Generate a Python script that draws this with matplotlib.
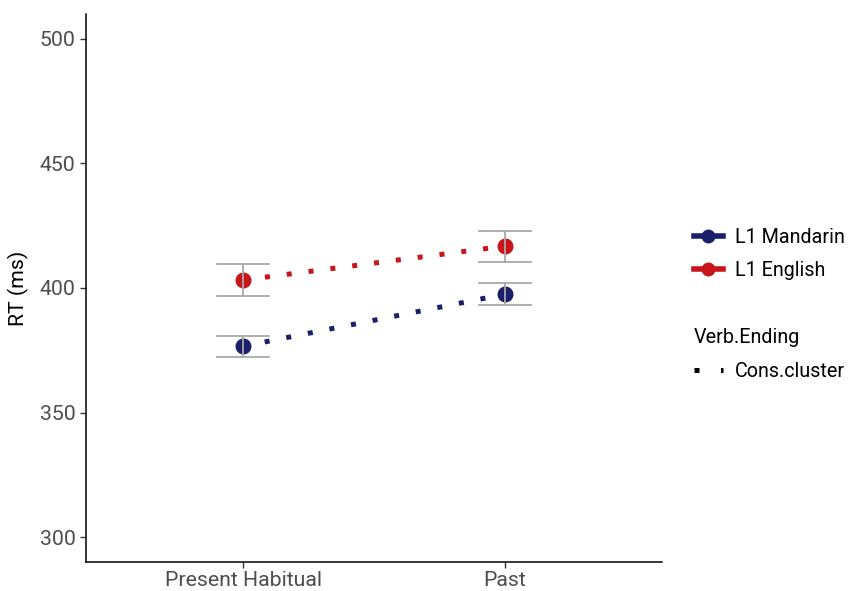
import matplotlib.pyplot as plt
from matplotlib.lines import Line2D

plt.rcParams['font.family'] = ['Roboto', 'DejaVu Sans']

# data
conditions = ["Present Habitual", "Past"]
groups = ["L1 Mandarin", "L1 English"]
mandarin_rt = [376.6, 397.5]
mandarin_lo = [372.3, 393.2]
mandarin_hi = [380.7, 402.0]
english_rt = [403.2, 416.8]
english_lo = [396.8, 410.4]
english_hi = [409.6, 422.9]
yticks = [300, 350, 400, 450, 500]

colors = ['#1b1f6b', '#c8141b']
grey = '#a9a9a9'
fs = 15.3
lfs = 14.2

fig = plt.figure(figsize=(8.5, 5.91), dpi=100)
ax = fig.add_axes([0.1012, 0.0491, 0.6776, 0.9272])

x = [1, 2]
series = [(mandarin_rt, mandarin_lo, mandarin_hi), (english_rt, english_lo, english_hi)]
for (rt, lo, hi), col in zip(series, colors):
    ax.plot(x, rt, color=col, lw=3.6, dashes=(1, 3.4), dash_capstyle='butt', zorder=2)
    ax.plot(x, rt, 'o', color=col, markersize=10.5, zorder=3)
    for xi, l, h in zip(x, lo, hi):
        ax.plot([xi, xi], [l, h], color=grey, lw=1.3, zorder=4)
        ax.plot([xi - 0.1, xi + 0.1], [l, l], color=grey, lw=1.3, zorder=4)
        ax.plot([xi - 0.1, xi + 0.1], [h, h], color=grey, lw=1.3, zorder=4)

ax.set_xlim(0.4, 2.6)
ax.set_ylim(290, 510)
ax.set_xticks(x)
ax.set_xticklabels(conditions)
ax.set_yticks(yticks)
ax.tick_params(labelsize=fs, labelcolor='#4d4d4d', color='#333333', length=4, width=1)
ax.tick_params(axis='x', pad=2.5)
ax.set_ylabel("RT (ms)", fontsize=fs, color='black', labelpad=8)
for s in ['top', 'right']:
    ax.spines[s].set_visible(False)
for s in ['left', 'bottom']:
    ax.spines[s].set_linewidth(1.1)
    ax.spines[s].set_color('black')

# legends
h1 = [Line2D([], [], color=c, lw=4, marker='o', markersize=9) for c in colors]
leg1 = fig.legend(h1, groups, loc='upper left', bbox_to_anchor=(0.816, 0.615),
                  frameon=False, fontsize=lfs, handlelength=1.5, handletextpad=0.6,
                  labelspacing=0.75, borderpad=0, borderaxespad=0)
h2 = [Line2D([], [], color='black', lw=3.6, dashes=(1, 4.3), dash_capstyle='butt')]
leg2 = fig.legend(h2, ["Cons.cluster"], title="Verb.Ending", loc='upper left',
                  bbox_to_anchor=(0.816, 0.445), frameon=False, fontsize=lfs,
                  title_fontsize=lfs, handlelength=1.5, handletextpad=0.6,
                  borderpad=0, borderaxespad=0)
leg2._legend_box.align = 'left'
leg2._legend_box.sep = 11

fig.savefig('out.png', dpi=100)
